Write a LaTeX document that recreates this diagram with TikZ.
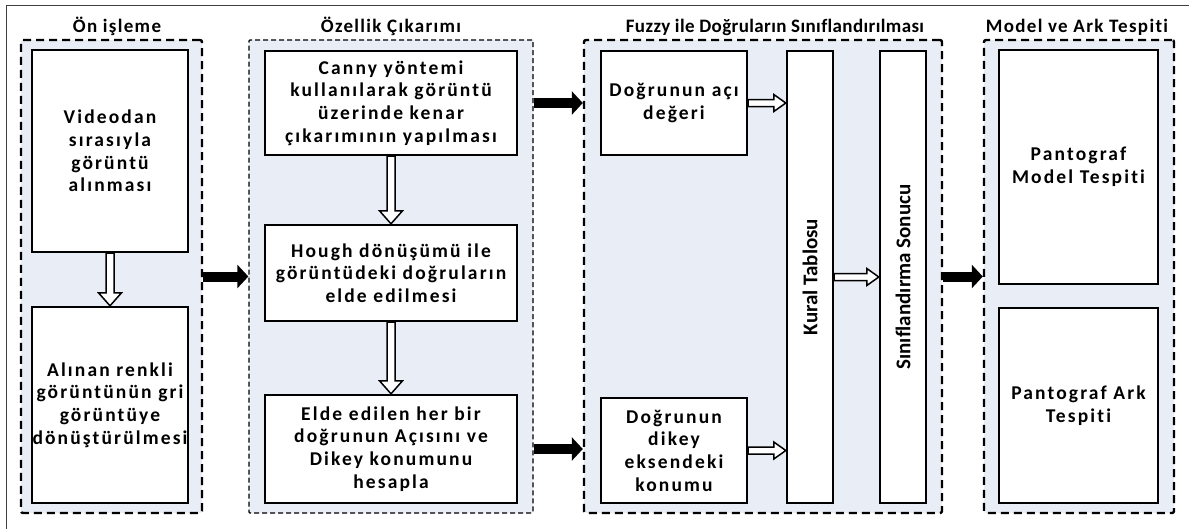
\documentclass[tikz,border=0pt]{standalone}
\usepackage{fontspec}
\setmainfont{Carlito}[LetterSpace=11,Ligatures=NoCommon]
\newfontfamily\titlefont{Carlito}[LetterSpace=7,Ligatures=NoCommon]
\newfontfamily\titlefontb{Carlito}[LetterSpace=2,Ligatures=NoCommon]
\newfontfamily\rotfont{Carlito}[Ligatures=NoCommon]
\usetikzlibrary{calc,arrows.meta}
\definecolor{panelfill}{HTML}{E9EDF5}
\tikzset{
  panelthick/.style={draw, fill=panelfill, line width=2.4pt, dash pattern=on 8pt off 5pt, rounded corners=2pt, inner sep=0pt},
  panelthin/.style={draw, fill=panelfill, line width=1.3pt, dash pattern=on 5pt off 3pt, rounded corners=1pt, inner sep=0pt},
  box/.style={draw, fill=white, line width=2.4pt, align=center, inner sep=0pt, font=\bfseries\fontsize{19.5}{22.7}\selectfont},
  title/.style={anchor=base, inner sep=0pt, font=\titlefont\bfseries\fontsize{19}{22.7}\selectfont},
  rottext/.style={rotate=90, inner sep=0pt, font=\rotfont\bfseries\fontsize{21}{24}\selectfont},
  hollowline/.style={draw=black, fill=white, line width=1.5pt, line join=miter},
  blackarrow/.style={line width=10pt, -{Triangle[length=11pt,width=23pt]}},
}
\newcommand\hollowv[2]{%
  \draw[hollowline] ($(#1)+(-4,0)$) -- ($(#2)+(-4,-13)$) -- ($(#2)+(-11.5,-13)$) -- (#2) -- ($(#2)+(11.5,-13)$) -- ($(#2)+(4,-13)$) -- ($(#1)+(4,0)$) -- cycle;}
\newcommand\hollowh[2]{%
  \draw[hollowline] ($(#1)+(0,-3.5)$) -- ($(#2)+(-12,-3.5)$) -- ($(#2)+(-12,-8.5)$) -- (#2) -- ($(#2)+(-12,8.5)$) -- ($(#2)+(-12,3.5)$) -- ($(#1)+(0,3.5)$) -- cycle;}
\begin{document}
\begin{tikzpicture}[x=1pt,y=-1pt]
\useasboundingbox (0,0) rectangle (1189,528);
\fill[white] (0,0) rectangle (1189,528);
% outer frame (clipped at right and bottom)
\draw[black!75, line width=1pt] (6,530) -- (6,5) -- (1190,5);

% panels
\node[panelthick, minimum width=181pt, minimum height=473pt] (p1) at (111.5,276.5) {};
\node[panelthin,  minimum width=284pt, minimum height=473pt] (p2) at (391,276.5) {};
\node[panelthick, minimum width=358pt, minimum height=473pt] (p3) at (763,276.5) {};
\node[panelthick, minimum width=190pt, minimum height=473pt] (p4) at (1079,276.5) {};

% titles
\node[title] (t1) at (117,32) {Ön işleme};
\node[title] (t2) at (391,32) {Özellik Çıkarımı};
\node[title, font=\titlefontb\bfseries\fontsize{19}{22.7}\selectfont] (t3) at (775,32) {Fuzzy ile Doğruların Sınıflandırılması};
\node[title] (t4) at (1077,32) {Model ve Ark Tespiti};

% panel 1
\node[box, minimum width=156pt, minimum height=202pt] (a1) at (110,151) {Videodan\\sırasıyla\\görüntü\\alınması};
\node[box, minimum width=156pt, minimum height=196pt] (a2) at (110,405) {Alınan renkli\\görüntünün gri\\görüntüye\\dönüştürülmesi};

% panel 2
\node[box, minimum width=252pt, minimum height=104pt] (b1) at (391,103) {Canny yöntemi\\kullanılarak görüntü\\üzerinde kenar\\çıkarımının yapılması};
\node[box, minimum width=252pt, minimum height=96pt] (b2) at (391,273) {Hough dönüşümü ile\\görüntüdeki doğruların\\elde edilmesi};
\node[box, minimum width=252pt, minimum height=108pt] (b3) at (391,449) {Elde edilen her bir\\doğrunun Açısını ve\\Dikey konumunu\\hesapla};

% panel 3
\node[box, minimum width=146pt, minimum height=104pt] (c1) at (674,103) {Doğrunun açı\\değeri};
\node[box, minimum width=146pt, minimum height=105pt] (c2) at (674,450.5) {Doğrunun\\dikey\\eksendeki\\konumu};
\node[box, minimum width=46pt, minimum height=452pt] (k) at (810,277) {};
\node[rottext] (kt) at (k.center) {Kural Tablosu};
\node[box, minimum width=46pt, minimum height=452pt] (s) at (903,277) {};
\node[rottext] (st) at (s.center) {Sınıflandırma Sonucu};

% panel 4
\node[box, minimum width=159pt, minimum height=234pt] (d1) at (1078.5,167) {Pantograf\\Model Tespiti};
\node[box, minimum width=159pt, minimum height=195pt] (d2) at (1078.5,405.5) {Pantograf Ark\\Tespiti};

% hollow arrows
\hollowv{a1.south}{a2.north}
\hollowv{b1.south}{b2.north}
\hollowv{b2.south}{b3.north}
\hollowh{c1.east}{k.west |- c1.east}
\hollowh{c2.east}{k.west |- c2.east}
\hollowh{k.east}{s.west}

% black arrows
\draw[blackarrow] (p1.east) -- (p2.west);
\draw[blackarrow] (p2.east |- b1.east) -- (p3.west |- b1.east);
\draw[blackarrow] (p2.east |- b3.east) -- (p3.west |- b3.east);
\draw[blackarrow] (p3.east) -- (p4.west);
\end{tikzpicture}
\end{document}
